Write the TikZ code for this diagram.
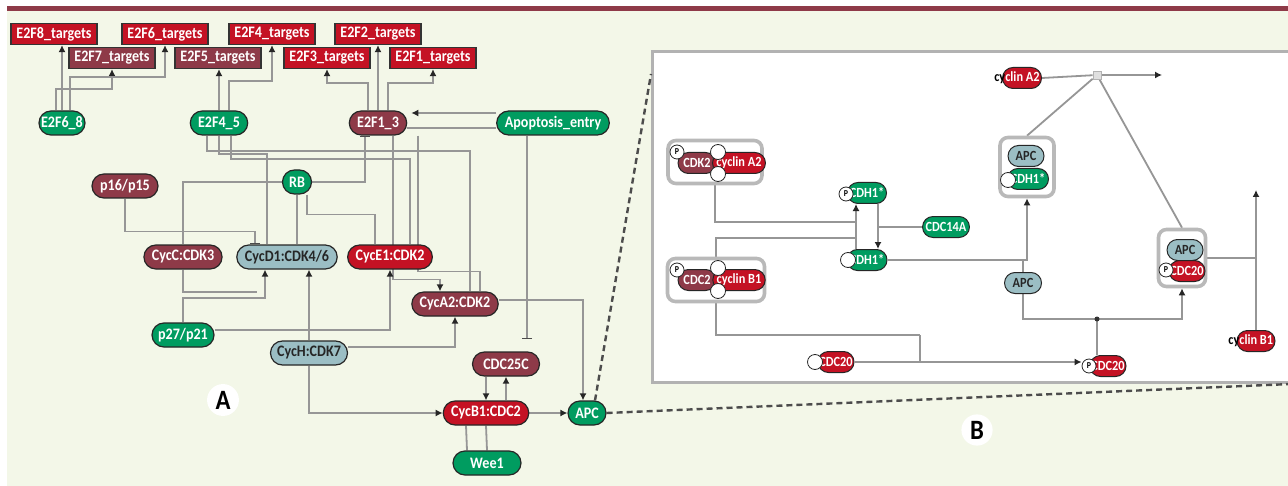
\documentclass[tikz,border=0pt]{standalone}
\usepackage{fontspec}
\setmainfont{Carlito}[FakeStretch=0.88]
\usetikzlibrary{arrows.meta,positioning,calc,shapes.misc,backgrounds}
\definecolor{rd}{RGB}{196,18,36}
\definecolor{mr}{RGB}{142,58,72}
\definecolor{gn}{RGB}{0,156,96}
\definecolor{lb}{RGB}{155,190,196}
\definecolor{bgc}{RGB}{243,247,232}
\definecolor{lnc}{RGB}{150,150,150}
\tikzset{
  tgt/.style={draw=black!80,line width=0.6pt,text=white,font=\bfseries\fontsize{8}{9}\selectfont,
              minimum width=43pt,minimum height=10.5pt,inner sep=1pt},
  pil/.style={rounded rectangle,draw=black!85,line width=0.6pt,text=white,
              font=\bfseries\fontsize{8}{9}\selectfont,minimum height=12pt,inner xsep=3pt,inner ysep=1pt},
  spil/.style={rounded rectangle,draw=black!85,line width=0.5pt,text=white,
               font=\bfseries\fontsize{7}{8}\selectfont,minimum height=10.5pt,inner xsep=1pt,inner ysep=0.5pt},
  cplx/.style={draw=gray!55,line width=1.8pt,rounded corners=4pt,fill=white},
  pmark/.style={circle,draw=black!85,fill=white,line width=0.4pt,inner sep=0pt,minimum size=7pt,
                font=\bfseries\fontsize{4.5}{5}\selectfont},
  emark/.style={circle,draw=black!85,fill=white,line width=0.4pt,inner sep=0pt,minimum size=7.5pt},
  lin/.style={draw=lnc,line width=0.9pt},
  arr/.style={-{Latex[length=3.5pt,width=3.5pt,color=black!85]}},
  inh/.style={-{Bar[width=5pt,color=black!70]}},
  dsh/.style={draw=gray!60!black,line width=1.2pt,dash pattern=on 3pt off 2pt},
  lbl/.style={circle,fill=white,inner sep=1.5pt,font=\bfseries\fontsize{14}{15}\selectfont},
}

\begin{document}
\begin{tikzpicture}[x=0.5pt,y=-0.5pt]
  \useasboundingbox (0,0) rectangle (1288,486);
  \begin{scope}[on background layer]
    \fill[bgc] (7,10) rectangle (1288,486);
    \fill[mr] (7,6) rectangle (1288,11);
    \node[draw=gray!60,line width=1.5pt,fill=white,minimum width=318.5pt,minimum height=165.5pt,
          anchor=north west,inner sep=0pt] (panB) at (651,50) {};
  \end{scope}

  % panel A: E2F targets
  \node[tgt,fill=rd] (t8) at (54,34) {E2F8\_targets};
  \node[tgt,fill=rd] (t6) at (165,34) {E2F6\_targets};
  \node[tgt,fill=rd] (t4) at (272,34) {E2F4\_targets};
  \node[tgt,fill=rd] (t2) at (378,34) {E2F2\_targets};
  \node[tgt,fill=mr] (t7) at (112,58) {E2F7\_targets};
  \node[tgt,fill=mr] (t5) at (218,58) {E2F5\_targets};
  \node[tgt,fill=rd] (t3) at (327,58) {E2F3\_targets};
  \node[tgt,fill=rd] (t1) at (433,58) {E2F1\_targets};

  % panel A: species
  \node[pil,fill=gn,minimum width=29pt] (e68) at (62,123) {E2F6\_8};
  \node[pil,fill=gn,minimum width=28.5pt] (e45) at (219,123) {E2F4\_5};
  \node[pil,fill=mr,minimum width=28.5pt] (e13) at (378,123) {E2F1\_3};
  \node[pil,fill=gn,minimum width=53.5pt] (apo) at (553,123) {Apoptosis\_entry};
  \node[pil,fill=mr,minimum width=31.5pt] (p16) at (125,186) {p16/p15};
  \node[pil,fill=gn,minimum width=20.5pt] (rb) at (297,182) {RB};
  \node[pil,fill=mr,minimum width=37pt] (cycc) at (183,257) {CycC:CDK3};
  \node[pil,fill=lb,text=black!85,minimum width=44.5pt] (cycd) at (287,257) {CycD1:CDK4/6};
  \node[pil,fill=rd,minimum width=37.5pt] (cyce) at (390,257) {CycE1:CDK2};
  \node[pil,fill=mr,minimum width=38.5pt] (cyca) at (455,304) {CycA2:CDK2};
  \node[pil,fill=gn,minimum width=37pt] (p27) at (183,335) {p27/p21};
  \node[pil,fill=lb,text=black!85,minimum width=44.5pt] (cych) at (309,353) {CycH:CDK7};
  \node[pil,fill=mr,minimum width=39.5pt] (cdc25) at (506,364) {CDC25C};
  \node[pil,fill=rd,minimum width=39.5pt] (cycb) at (486,413) {CycB1:CDC2};
  \node[pil,fill=gn,minimum width=25pt] (apcA) at (587,413) {APC};
  \node[pil,fill=gn,minimum width=40pt] (wee) at (487,463) {Wee1};
  \node[lbl] (labA) at (223,400) {A};
  \node[lbl] (labB) at (977,430) {B};

  % panel B: complexes
  \node[cplx,minimum width=47pt,minimum height=21.5pt] (cxA) at (715,162) {};
  \node[spil,fill=mr,minimum width=21pt] (cdk2) at (697,163) {CDK2};
  \node[spil,fill=rd,minimum width=22pt] (cyA2) at (739,163) {cyclin A2};
  \node[pmark] (pm1) at (677,152) {P};
  \node[emark] (em1) at (718,152) {};
  \node[emark] (em2) at (718,174) {};
  \node[cplx,minimum width=48.5pt,minimum height=21.5pt] (cxB) at (716,280) {};
  \node[spil,fill=mr,minimum width=21pt] (cdc2) at (697,280) {CDC2};
  \node[spil,fill=rd,minimum width=22pt] (cyB1) at (739,280) {cyclin B1};
  \node[pmark] (pm2) at (677,270) {P};
  \node[emark] (em3) at (718,268) {};
  \node[emark] (em4) at (718,291) {};
  \node[cplx,minimum width=27pt,minimum height=29.5pt] (cxC) at (1027,167) {};
  \node[spil,fill=lb,text=black!85,minimum width=20pt] (apc1) at (1026,156) {APC};
  \node[spil,fill=gn,minimum width=20pt] (cdh1c) at (1028,179) {CDH1*};
  \node[emark] (em5) at (1008,180) {};
  \node[cplx,minimum width=23.5pt,minimum height=28.5pt] (cxD) at (1182,258) {};
  \node[spil,fill=lb,text=black!85,minimum width=20pt] (apc3) at (1185,250) {APC};
  \node[spil,fill=rd,minimum width=20pt] (cdc20c) at (1187,271) {CDC20};
  \node[pmark] (pm4) at (1166,270) {P};

  % panel B: species
  \node[spil,fill=rd,minimum width=21.5pt] (cyAtop) at (1022,78) {};
  \node[anchor=east,inner sep=0pt,text=white,font=\bfseries\fontsize{7}{8}\selectfont]
       (cyAtxt) at ([xshift=-1pt]cyAtop.east) {\textcolor{black}{cy}clin A2};
  \node[spil,fill=gn,minimum width=21.5pt] (cdhp) at (867,193) {CDH1*};
  \node[pmark] (pm3) at (846,194) {P};
  \node[spil,fill=gn,minimum width=21pt] (cdc14) at (946,227) {CDC14A};
  \node[spil,fill=gn,minimum width=22pt] (cdh) at (867,260) {CDH1*};
  \node[emark] (em6) at (848,260) {};
  \node[spil,fill=lb,text=black!85,minimum width=20.5pt] (apc2) at (1023,283) {APC};
  \node[spil,fill=rd,minimum width=21pt] (cyBr) at (1256,341) {};
  \node[anchor=east,inner sep=0pt,text=white,font=\bfseries\fontsize{7}{8}\selectfont]
       (cyBtxt) at ([xshift=-1pt]cyBr.east) {\textcolor{black}{cy}clin B1};
  \node[spil,fill=rd,minimum width=20pt] (cdc20a) at (836,362) {CDC20};
  \node[emark] (em7) at (815,362) {};
  \node[spil,fill=rd,minimum width=20pt] (cdc20p) at (1108,366) {CDC20};
  \node[pmark] (pm5) at (1089,366) {P};
  \node[draw=gray!60,fill=gray!25,minimum size=4pt,inner sep=0pt] (jA) at (1097,75) {};

  \coordinate (sinkA) at (1162,75);
  \coordinate (sinkB) at (1253,190);
  \coordinate (dn) at ($(cdhp.south)+(11,0)$);
  \coordinate (jB) at ($(cdc20p.north)+(-11,-36)$);
  \coordinate (jC) at (920,335);
  \coordinate (apd) at ($(apo.south)+(-26,0)$);
  \coordinate (bcorner) at ($(panB.north west)+(0,24)$);

  \begin{scope}[on background layer]
    % E2F -> targets
    \draw[lin,arr] (e68.north) -- (e68.north|-t8.south);
    \draw[lin,arr] ($(e68.north)+(-6,0)$) |- ($(t7.south)+(0,20)$) -- (t7.south);
    \draw[lin,arr] ($(e68.north)+(8,0)$) |- ($(t6.south)+(0,32)$) -- (t6.south);
    \draw[lin,arr] (e45.north) -- (e45.north|-t5.south);
    \draw[lin,arr] ($(e45.north)+(10,0)$) |- ($(t4.south)+(0,36)$) -- (t4.south);
    \draw[lin,arr] ($(e13.north)+(-10,0)$) |- ($(t3.south)+(0,14)$) -- (t3.south);
    \draw[lin,arr] (e13.north) -- (e13.north|-t2.south);
    \draw[lin,arr] ($(e13.north)+(10,0)$) |- ($(t1.south)+(0,14)$) -- (t1.south);
    \draw[lin,arr] ($(apo.west)+(0,-10)$) -- ($(e13.east)+(4,-10)$);
    \draw[lin] ($(e13.east)+(0,5)$) -- ($(apo.west)+(0,5)$);
    \draw[lin,inh,shorten >=6pt] (apd) -- (apd|-cdc25.north);
    % RB and cyclins
    \draw[lin,inh] (rb.east) -| ($(e13.south)+(-13,0)$);
    \draw[lin] (rb.west) -| (cycc.north);
    \draw[lin] (rb.south) -- (rb.south|-cycd.north);
    \draw[lin] ($(rb.south)+(10,0)$) |- ($(cyce.north)+(-15,-30)$) -- ($(cyce.north)+(-15,0)$);
    \draw[lin,inh] (p16.south) |- ($(cycd.north)+(-32,-13)$) -- ($(cycd.north)+(-32,0)$);
    \draw[lin] ($(e45.south)+(-12,0)$) |- ($(cyca.north)+(15,-140)$) -- ($(cyca.north)+(15,0)$);
    \draw[lin] (e45.south) |- ($(cycd.north)+(-20,-90)$) -- ($(cycd.north)+(-20,0)$);
    \draw[lin] ($(e45.south)+(12,0)$) |- ($(cyce.north)+(20,-85)$) -- ($(cyce.north)+(20,0)$);
    \draw[lin,arr] ($(e13.south)+(15,0)$) |- ($(cyca.north)+(-15,-12)$) -- ($(cyca.north)+(-15,0)$);
    \draw[lin] ($(e13.south)+(40,0)$) |- ($(cyca.north)+(25,-20)$) -- ($(cyca.north)+(25,0)$);
    \draw[lin,arr] ($(cyca.east)+(0,-4)$) -| ($(apcA.north)+(-4,0)$);
    \draw[lin,arr] (p27.north) |- ($(cycd.south)+(-22,28)$) -- ($(cycd.south)+(-22,0)$);
    \draw[lin,arr] ($(p27.east)+(0,-5)$) -| (cyce.south);
    \draw[lin] (cycc.south) |- ($(cycd.south)+(-30,22)$);
    \draw[lin,arr] (cych.north) -- (cych.north|-cycd.south);
    \draw[lin,arr] ($(cych.east)+(0,-6)$) -| (cyca.south);
    \draw[lin,arr] (cych.south) |- (cycb.west);
    % CycB1:CDC2 module
    \draw[lin,arr] (cycb.north|-cdc25.south) -- (cycb.north);
    \draw[lin,arr] (cdc25.south|-cycb.north) -- (cdc25.south);
    \draw[lin] (wee.north) -- (cycb.south);
    \draw[lin] ($(wee.north)+(-20,0)$) -- ($(cycb.south)+(-20,0)$);
    \draw[lin,arr] (cycb.east) -- (apcA.west);
    % zoom lines
    \draw[dsh] (apcA.east) -- (panB.south east);
    \draw[dsh] ($(apcA.north)+(8,0)$) -- (bcorner);
    % panel B
    \draw[lin] (cyAtop.east) -- (jA);
    \draw[lin,arr] (jA) -- (sinkA);
    \draw[lin] (jA) -- (cxC.north);
    \draw[lin] (jA) -- (cxD.north);
    \draw[lin,arr] ($(cdh.north)+(-11,0)$) -- ($(cdhp.south)+(-11,0)$);
    \draw[lin,arr] (dn) -- (dn|-cdh.north);
    \draw[lin] (cxA.south) |- ($(cdhp.south)+(-11,18)$);
    \draw[lin] (cxB.north) |- ($(cdhp.south)+(-11,34)$);
    \draw[lin] (cdc14.west) -- (cdc14.west-|dn);
    \draw[lin,arr] (cdh.east) -| (cxC.south);
    \draw[lin] (apc2.north) -- (apc2.north|-cdh.east);
    \draw[lin] (apc2.south) |- (jB);
    \draw[lin,arr] (jB) -| (cxD.south);
    \draw[lin] (jB) -- (jB|-cdc20p.north);
    \fill[black!80] (jB) circle (2.5);
    \draw[lin] (cxB.south) |- (jC);
    \draw[lin] (jC) -- (jC|-cdc20a.east);
    \draw[lin,arr] (cdc20a.east) -- (cdc20a.east-|pm5.west);
    \draw[lin,arr] (cyBr.north) -- (cyBr.north|-sinkB);
    \draw[lin] (cxD.east) -- (cxD.east-|cyBr.north);
  \end{scope}
\end{tikzpicture}
\end{document}
